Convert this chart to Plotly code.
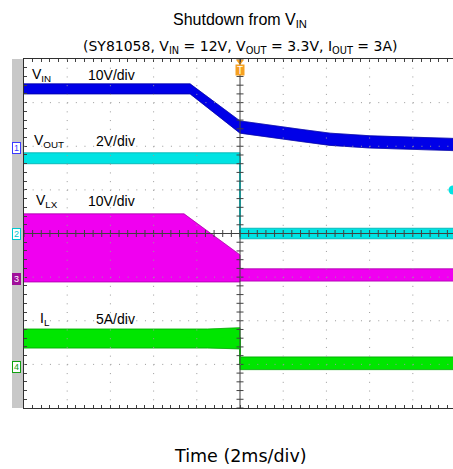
import numpy as np
import plotly.graph_objects as go

# ---- waveform envelopes (time in ms, level in screen divisions, 0 = bottom) ----
vin_t = [-10.0, -2.31, 0.0, 1.39, 2.78, 4.17, 6.02, 7.87, 9.86]
vin_hi = [7.43, 7.43, 6.58, 6.48, 6.39, 6.30, 6.24, 6.21, 6.18]
vin_lo = [7.20, 7.20, 6.30, 6.20, 6.11, 6.02, 5.96, 5.93, 5.90]

vout_t = [-10.0, 0.0, 0.0, 9.86]
vout_hi = [5.85, 5.85, 4.12, 4.12]
vout_lo = [5.60, 5.60, 3.88, 3.88]

vlx_t = [-10.0, -2.59, 0.0, 0.0, 9.86]
vlx_hi = [4.45, 4.45, 3.51, 3.19, 3.19]
vlx_lo = [2.89, 2.89, 2.89, 2.91, 2.91]

il_t = [-10.0, -1.5, 0.0, 0.0, 9.86]
il_hi = [1.81, 1.81, 1.84, 1.17, 1.17]
il_lo = [1.375, 1.375, 1.355, 0.88, 0.88]

# channel labels: (name, scale)
ch_names = ["V<sub>IN</sub>", "V<sub>OUT</sub>", "V<sub>LX</sub>", "I<sub>L</sub>"]
ch_scales = ["10V/div", "2V/div", "10V/div", "5A/div"]

# ---- page geometry ----
W, H = 453, 469
PX0, PX1, PY0, PY1 = 24, 453, 59, 408
XR = (-10.0, 9.86)
YR = (0.0, 8.0)
FONT = "Liberation Sans, Arial, sans-serif"
WIDE_FONT = "DejaVu Sans, Verdana, sans-serif"


def px_x(px):
    return (px - PX0) / (PX1 - PX0)


def px_y(py):
    return (PY1 - py) / (PY1 - PY0)


def data_x(px):
    return XR[0] + (px - PX0) / (PX1 - PX0) * (XR[1] - XR[0])


def data_y(py):
    return YR[0] + (PY1 - py) / (PY1 - PY0) * (YR[1] - YR[0])


fig = go.Figure()


def band(t, hi, lo, fill, edge):
    t = list(t)
    fig.add_trace(go.Scatter(
        x=t + t[::-1], y=list(hi) + list(lo)[::-1], mode="lines",
        fill="toself", fillcolor=fill, line=dict(color=fill, width=0.5),
        hoverinfo="skip", showlegend=False))
    for edge_y in (hi, lo):
        fig.add_trace(go.Scatter(
            x=t, y=list(edge_y), mode="lines",
            line=dict(color=edge, width=1), opacity=0.55,
            hoverinfo="skip", showlegend=False))
    mid = [(a + b) / 2 for a, b in zip(hi, lo)]
    fig.add_trace(go.Scatter(
        x=t, y=mid, mode="lines", line=dict(color=fill, width=2),
        hoverinfo="skip", showlegend=False))


band(vin_t, vin_hi, vin_lo, "#0000e8", "#00008a")
band(vout_t, vout_hi, vout_lo, "#00e3e3", "#009a9a")
band(vlx_t, vlx_hi, vlx_lo, "#f000f0", "#8a008a")
band(il_t, il_hi, il_lo, "#00e600", "#008c00")

# ---- graticule ----
shapes = []
grid_col = "#9a9a9a"
for yv in [1, 2, 3, 5, 6, 7]:
    shapes.append(dict(type="line", xref="x", yref="y", x0=XR[0], x1=XR[1], y0=yv, y1=yv,
                       line=dict(color=grid_col, width=1, dash="1px,7.64px"), layer="above"))
for xv in [-8, -6, -4, -2, 2, 4, 6, 8]:
    shapes.append(dict(type="line", xref="x", yref="y", x0=xv, x1=xv, y0=YR[1], y1=YR[0],
                       line=dict(color=grid_col, width=1, dash="1px,7.725px"), layer="above"))
axis_col = "#404040"
shapes.append(dict(type="line", xref="x", yref="y", x0=XR[0], x1=XR[1], y0=4, y1=4,
                   line=dict(color=axis_col, width=1), layer="above"))
shapes.append(dict(type="line", xref="x", yref="y", x0=0, x1=0, y0=YR[0], y1=YR[1],
                   line=dict(color=axis_col, width=1), layer="above"))
# grey channel strip on the left
shapes.append(dict(type="rect", xref="paper", yref="paper", x0=px_x(12), x1=px_x(23),
                   y0=px_y(PY1), y1=px_y(PY0), fillcolor="#c8c8c8", line=dict(width=0),
                   layer="below"))

# centre-line minor ticks
tx = np.arange(-10.0, 9.9, 0.4)
ty = np.arange(0.0, 8.01, 0.2)
fig.add_trace(go.Scatter(x=tx, y=np.full_like(tx, 4.0), mode="markers",
                         marker=dict(symbol="line-ns", size=5, line=dict(width=1, color=axis_col)),
                         hoverinfo="skip", showlegend=False))
fig.add_trace(go.Scatter(x=np.zeros_like(ty), y=ty, mode="markers",
                         marker=dict(symbol="line-ew", size=5, line=dict(width=1, color=axis_col)),
                         hoverinfo="skip", showlegend=False))

# trigger marker and right-edge level marker
fig.add_trace(go.Scatter(x=[0], y=[data_y(61.5)], mode="markers",
                         marker=dict(symbol="triangle-down", size=7, color="#f5a020"),
                         cliponaxis=False, hoverinfo="skip", showlegend=False))
fig.add_trace(go.Scatter(x=[data_x(453)], y=[data_y(190)], mode="markers",
                         marker=dict(symbol="circle", size=9, color="#00e3e3"),
                         cliponaxis=False, hoverinfo="skip", showlegend=False))

ann = []


def text_at(text, px, py, size, color="#000", xanchor="center", family=FONT, **kw):
    ann.append(dict(text=text, x=px_x(px), y=px_y(py), xref="paper", yref="paper",
                    xanchor=xanchor, yanchor="middle", showarrow=False,
                    font=dict(size=size, color=color, family=family), **kw))


# title, subtitle, x label
text_at("Shutdown from V<sub>IN</sub>", 240, 20, 16)
text_at("(SY81058, V<sub>IN</sub> = 12V, V<sub>OUT</sub> = 3.3V, I<sub>OUT</sub> = 3A)", 240, 47, 14,
        family=WIDE_FONT)
text_at("Time (2ms/div)", 240, 456, 17.5, family=WIDE_FONT)

# channel labels
name_pos = [(30, 75), (32, 141), (34, 201), (38, 319)]
for name, scale, (lx, ly) in zip(ch_names, ch_scales, name_pos):
    text_at(name, lx, ly, 14, xanchor="left")
    text_at(scale, 137, ly, 14, xanchor="right")

# channel ground markers in the left strip
markers = [("1", 148, "#3a3aff", "#ffffff", "#3a3aff"),
           ("2", 234, "#00c8d0", "#ffffff", "#00c8d0"),
           ("3", 279, "#ffffff", "#a0109a", "#a0109a"),
           ("4", 367, "#10a010", "#ffffff", "#10a010")]
for lab, py, fc, bg, bc in markers:
    text_at(lab, 16.5, py, 9, color=fc, bgcolor=bg, bordercolor=bc, borderwidth=1,
            borderpad=0, width=7, height=10)

# trigger flag
text_at("T", 240, 69.5, 10, color="#ffffff", bgcolor="#f5a020", borderpad=0, width=8, height=10)

axis_common = dict(showgrid=False, zeroline=False, showticklabels=False, showline=True,
                   linecolor="#303030", linewidth=1, ticks="inside", ticklen=3,
                   tickcolor="#404040", layer="above traces", fixedrange=True)

fig.update_layout(
    width=W, height=H, margin=dict(l=PX0, r=W - PX1, t=PY0, b=H - PY1, pad=0),
    paper_bgcolor="#ffffff", plot_bgcolor="#ffffff", showlegend=False,
    xaxis=dict(range=list(XR), dtick=2, tick0=0, mirror="ticks",
               minor=dict(dtick=0.4, ticks="inside", ticklen=3, tickcolor="#404040", showgrid=False),
               **axis_common),
    yaxis=dict(range=list(YR), dtick=1, tick0=0, mirror=False,
               minor=dict(dtick=0.2, ticks="inside", ticklen=3, tickcolor="#404040", showgrid=False),
               **axis_common),
    shapes=shapes, annotations=ann,
)

fig.write_html("out.html")
